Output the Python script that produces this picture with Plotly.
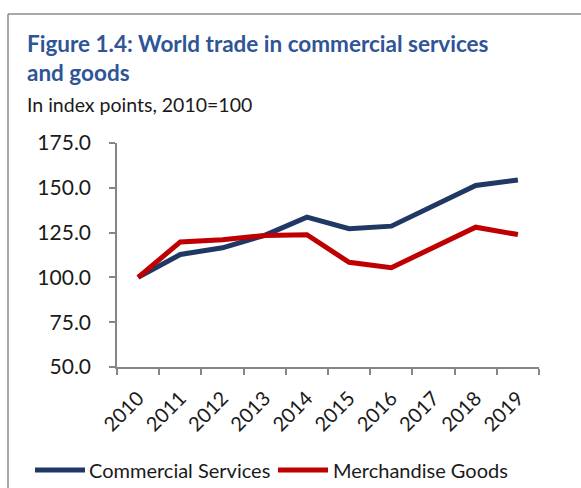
import plotly.graph_objects as go

years = ["2010", "2011", "2012", "2013", "2014", "2015", "2016", "2017", "2018", "2019"]
commercial_services = [100.0, 112.8, 116.5, 123.5, 133.6, 127.2, 128.6, 139.6, 151.3, 154.3]
merchandise_goods = [100.0, 119.8, 121.0, 123.4, 123.8, 108.4, 105.4, 116.6, 128.0, 123.9]
series_names = ["Commercial Services", "Merchandise Goods"]

NAVY = "#203864"
RED = "#C00000"
AXIS = "#868686"
TEXT = "#1a1a1a"
FONT = "Lato"

fig = go.Figure()
for name, vals, col in zip(series_names, [commercial_services, merchandise_goods], [NAVY, RED]):
    fig.add_trace(go.Scatter(x=years, y=vals, mode="lines", name=name,
                             line=dict(color=col, width=5), showlegend=False))

# plot area: x 117..539 px, y 143..367 px
L, R, T, B = 117, 42, 143, 121
W, H = 581, 488
pw, ph = W - L - R, H - T - B

def px(x):
    return (x - L) / pw

def py(y):
    return (H - B - y) / ph

shapes = [
    dict(type="line", xref="paper", yref="paper", x0=px(8), x1=px(8), y0=py(14), y1=py(500),
         line=dict(color="#8c8c8c", width=1.5)),
    dict(type="line", xref="paper", yref="paper", x0=px(8), x1=px(600), y0=py(14), y1=py(14),
         line=dict(color="#8c8c8c", width=1.5)),
]
annotations = [
    dict(text="<b>Figure 1.4: World trade in commercial services<br>and goods</b>",
         xref="paper", yref="paper", x=px(25), y=py(28), xanchor="left", yanchor="top",
         align="left", showarrow=False,
         font=dict(family=FONT, size=22.5, color="#2F5597")),
    dict(text="In index points, 2010=100",
         xref="paper", yref="paper", x=px(25), y=py(91), xanchor="left", yanchor="top",
         align="left", showarrow=False,
         font=dict(family=FONT, size=19.5, color=TEXT)),
]

# legend: line sample followed by series name
legend_items = [(35, 85, 87), (278, 328, 331)]
for (lx0, lx1, tx), name, col in zip(legend_items, series_names, [NAVY, RED]):
    shapes.append(dict(type="line", xref="paper", yref="paper",
                       x0=px(lx0), x1=px(lx1), y0=py(470), y1=py(470),
                       line=dict(color=col, width=5)))
    annotations.append(dict(text=name, xref="paper", yref="paper", x=px(tx), y=py(470),
                            xanchor="left", yanchor="middle", showarrow=False,
                            font=dict(family=FONT, size=20, color=TEXT)))

fig.update_layout(
    width=W, height=H,
    margin=dict(l=L, r=R, t=T, b=B),
    paper_bgcolor="white", plot_bgcolor="white",
    font=dict(family=FONT, color=TEXT),
    showlegend=False,
    xaxis=dict(type="category", range=[-0.5, 9.5], showgrid=False,
               showline=True, linecolor=AXIS, linewidth=1.5,
               ticks="outside", tickson="boundaries", ticklen=6, tickcolor=AXIS, tickwidth=1.5,
               tickangle=-45, ticklabelstandoff=10,
               tickfont=dict(size=20, color=TEXT)),
    yaxis=dict(range=[50, 175], dtick=25, tickformat=".1f", showgrid=False,
               showline=True, linecolor=AXIS, linewidth=1.5, zeroline=False,
               ticks="outside", ticklen=6, tickcolor=AXIS, tickwidth=1.5,
               ticklabelstandoff=14,
               tickfont=dict(size=21, color=TEXT)),
    shapes=shapes,
    annotations=annotations,
)

fig.write_html("out.html")
